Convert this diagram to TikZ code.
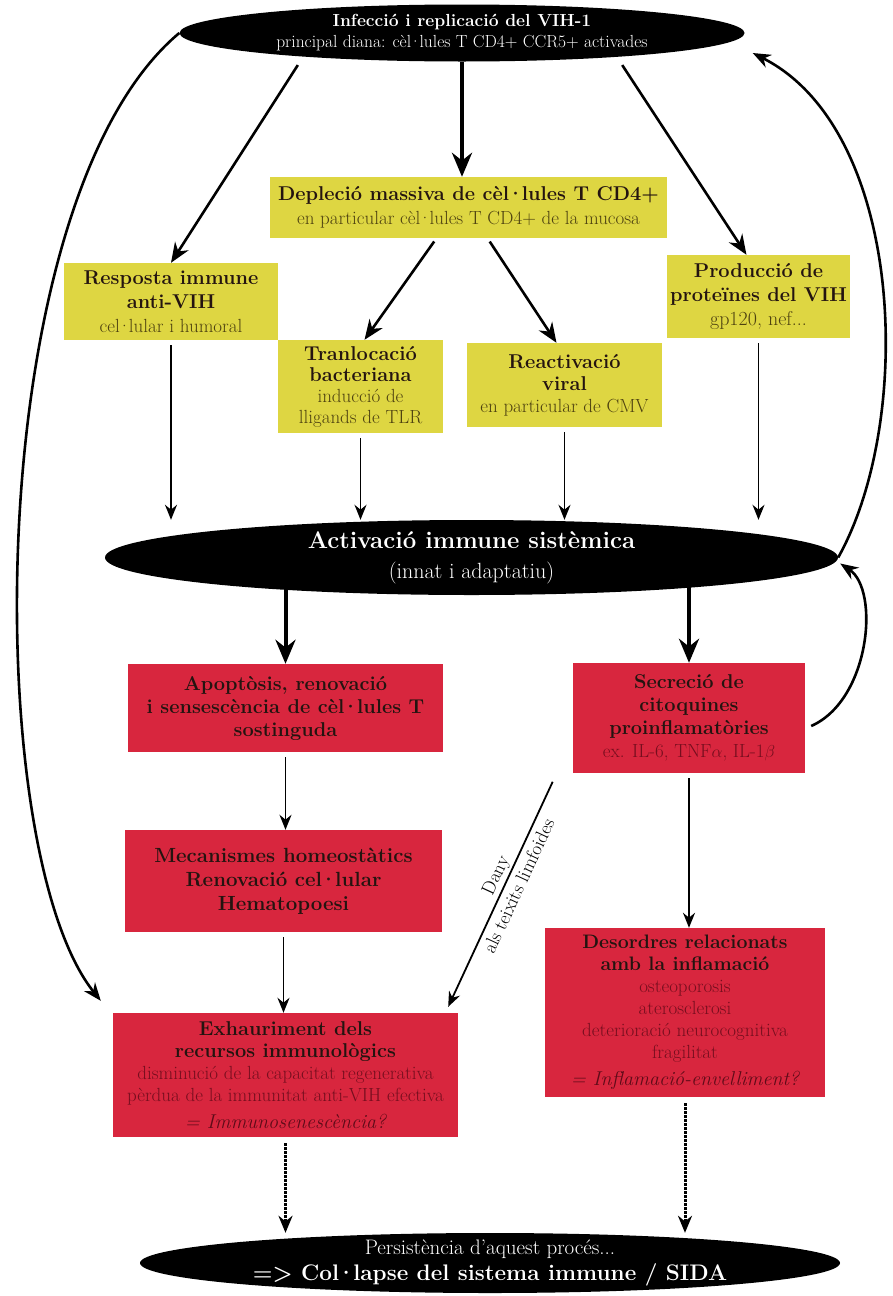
\documentclass[tikz,border=0pt]{standalone}
\usepackage{xcolor}
\usepackage{tikz}
\usetikzlibrary{arrows.meta,positioning,shapes.geometric}
\definecolor{vihyellow}{RGB}{222,214,66}
\definecolor{vihred}{RGB}{216,38,62}
\definecolor{headtext}{RGB}{36,20,16}
\definecolor{yellowtext}{RGB}{78,66,16}
\definecolor{redtext}{RGB}{118,14,30}
\newcommand{\puntvolat}{\kern-0.12em·\kern-0.12em}
\newcommand{\boxhead}[1]{{\bfseries\color{headtext}#1}}
\newcommand{\yellowsub}[1]{{\fontsize{19}{22}\selectfont\color{yellowtext}#1}}
\newcommand{\redsub}[1]{{\fontsize{19}{22}\selectfont\color{redtext}#1}}
\newcommand{\rednote}[1]{{\fontsize{20}{22}\selectfont\itshape\color{redtext!80!black}#1}}

\begin{document}
\begin{tikzpicture}[x=1pt,y=-1pt,
    oval/.style={ellipse, fill=black, text=white, align=center, inner sep=0pt},
    yellowbox/.style={rectangle, fill=vihyellow, align=center, inner sep=0pt, font=\fontsize{20}{24}\selectfont},
    redbox/.style={rectangle, fill=vihred, align=center, inner sep=0pt, font=\fontsize{20}{23}\selectfont},
    bigarrow/.style={-{Stealth[length=24pt,width=20pt]}, line width=4pt},
    midarrow/.style={-{Stealth[length=20pt,width=16pt]}, line width=2.6pt, shorten <=4pt},
    thinarrow/.style={-{Stealth[length=15pt,width=12pt]}, line width=1.8pt, shorten <=5pt},
    curvearrow/.style={-{Stealth[length=18pt,width=14pt]}, line width=2.6pt},
    dotarrow/.style={-{Stealth[length=17pt,width=14pt]}, line width=3pt, dash pattern=on 2.5pt off 1.5pt, shorten <=6pt}]
    \useasboundingbox (0,0) rectangle (892,1296);
    \fill[white] (0,0) rectangle (892,1296);
    % Ovals
    \node[oval, minimum width=565pt, minimum height=57pt, inner ysep=-3pt, font=\fontsize{17.5}{21}\selectfont] (infect) at (462,33)
        {\textbf{Infecció i replicació del VIH-1}\\principal diana: cèl\puntvolat lules T CD4+ CCR5+ activades};
    \node[oval, minimum width=733pt, minimum height=75pt, inner ysep=-4pt, font=\fontsize{22}{30}\selectfont] (activ) at (471.5,557.5)
        {{\fontsize{24}{30}\selectfont\bfseries Activació immune sistèmica}\\(innat i adaptatiu)};
    \node[oval, minimum width=700pt, minimum height=60pt, inner ysep=-6pt, font=\fontsize{21}{26}\selectfont] (collapse) at (490,1263)
        {Persistència d'aquest procés...\\{\fontsize{22.5}{26}\selectfont\bfseries => Col\puntvolat lapse del sistema immune / SIDA}};
    % Yellow boxes
    \node[yellowbox, minimum width=397pt, minimum height=61pt] (deplecio) at (468.5,207.5)
        {\boxhead{Depleció massiva de cèl\puntvolat lules T CD4+}\\\yellowsub{en particular cèl\puntvolat lules T CD4+ de la mucosa}};
    \node[yellowbox, minimum width=214pt, minimum height=77pt] (resposta) at (171,301.5)
        {\boxhead{Resposta immune}\\\boxhead{anti-VIH}\\\yellowsub{cel\puntvolat lular i humoral}};
    \node[yellowbox, minimum width=165pt, minimum height=93pt, font=\fontsize{20}{21}\selectfont] (tranlocacio) at (360.5,386.5)
        {\boxhead{Tranlocació}\\\boxhead{bacteriana}\\\yellowsub{inducció de}\\\yellowsub{lligands de TLR}};
    \node[yellowbox, minimum width=195pt, minimum height=84pt, font=\fontsize{20}{22}\selectfont] (reactivacio) at (564.5,385)
        {\boxhead{Reactivació}\\\boxhead{viral}\\\yellowsub{en particular de CMV}};
    \node[yellowbox, minimum width=183pt, minimum height=83pt] (produccio) at (758.5,296.5)
        {\boxhead{Producció de}\\\boxhead{proteïnes del VIH}\\{\fontsize{20}{22}\selectfont\color{yellowtext}gp120, nef...}};
    % Red boxes
    \node[redbox, minimum width=315pt, minimum height=88pt] (apoptosi) at (285.5,708)
        {\boxhead{Apoptòsis, renovació}\\\boxhead{i sensescència de cèl\puntvolat lules T}\\\boxhead{sostinguda}};
    \node[redbox, minimum width=232pt, minimum height=110pt] (secrecio) at (689,718)
        {\boxhead{Secreció de}\\\boxhead{citoquines}\\\boxhead{proinflamatòries}\\\redsub{ex. IL-6, TNF$\alpha$, IL-1$\beta$}};
    \node[redbox, minimum width=317pt, minimum height=102pt, font=\fontsize{20.5}{24}\selectfont] (mecanismes) at (283.5,881)
        {\boxhead{Mecanismes homeostàtics}\\\boxhead{Renovació cel\puntvolat lular}\\\boxhead{Hematopoesi}};
    \node[redbox, minimum width=280pt, minimum height=169pt, font=\fontsize{19.5}{22}\selectfont] (desordres) at (685,1012.5)
        {\boxhead{Desordres relacionats}\\\boxhead{amb la inflamació}\\\redsub{osteoporosis}\\\redsub{aterosclerosi}\\
         \redsub{deterioració neurocognitiva}\\\redsub{fragilitat}\\[5pt]\rednote{= Inflamació-envelliment?}};
    \node[redbox, minimum width=345pt, minimum height=124pt, font=\fontsize{20}{22}\selectfont] (exhauriment) at (285.5,1075)
        {\boxhead{Exhauriment dels}\\\boxhead{recursos immunològics}\\\redsub{disminució de la capacitat regenerativa}\\
         \redsub{pèrdua de la immunitat anti-VIH efectiva}\\[5pt]\rednote{= Immunosenescència?}};
    % From the infection
    \draw[bigarrow] (infect.south) -- (infect.south |- deplecio.north);
    \draw[midarrow] ([xshift=-162pt]infect.south) -- (resposta.north);
    \draw[midarrow] ([xshift=158pt]infect.south) -- ([xshift=-12pt]produccio.north);
    \draw[midarrow] ([xshift=-32pt]deplecio.south) -- ([xshift=4pt]tranlocacio.north);
    \draw[midarrow] ([xshift=19pt]deplecio.south) -- ([xshift=-8pt]reactivacio.north);
    % Into the systemic activation
    \draw[thinarrow] (resposta.south) -- (resposta.south |- activ.north);
    \draw[thinarrow] (tranlocacio.south) -- (tranlocacio.south |- activ.north);
    \draw[thinarrow] (reactivacio.south) -- (reactivacio.south |- activ.north);
    \draw[thinarrow] (produccio.south) -- (produccio.south |- activ.north);
    % Out of the systemic activation
    \draw[bigarrow] ([yshift=6pt]apoptosi.north |- activ.south) -- (apoptosi.north);
    \draw[bigarrow] ([yshift=8pt]secrecio.north |- activ.south) -- (secrecio.north);
    \draw[thinarrow] (apoptosi.south) -- (apoptosi.south |- mecanismes.north);
    \draw[thinarrow] (mecanismes.south) -- (mecanismes.south |- exhauriment.north);
    \draw[thinarrow] (secrecio.south) -- (secrecio.south |- desordres.north);
    \draw[thinarrow] ([xshift=-18pt,yshift=-4pt]secrecio.south west) -- ([xshift=-10pt,yshift=6pt]exhauriment.north east)
        node[pos=0.45, sloped, align=center, inner sep=0pt, font=\fontsize{19}{26}\selectfont] {Dany\\als teixits limfoides};
    % Feedback loops
    \draw[curvearrow] (infect.west) .. controls (-20,200) and (-20,850) .. ([xshift=-12pt,yshift=12pt]exhauriment.north west);
    \draw[curvearrow] (activ.east) .. controls (915,420) and (905,130) .. ([xshift=8pt,yshift=-20pt]infect.east);
    \draw[curvearrow] ([xshift=6pt,yshift=-8pt]secrecio.east) .. controls (870,700) and (880,590) .. ([xshift=2pt,yshift=-6pt]activ.east);
    % Towards collapse
    \draw[dotarrow] (exhauriment.south) -- (exhauriment.south |- collapse.north);
    \draw[dotarrow] (desordres.south) -- (desordres.south |- collapse.north);
\end{tikzpicture}
\end{document}
